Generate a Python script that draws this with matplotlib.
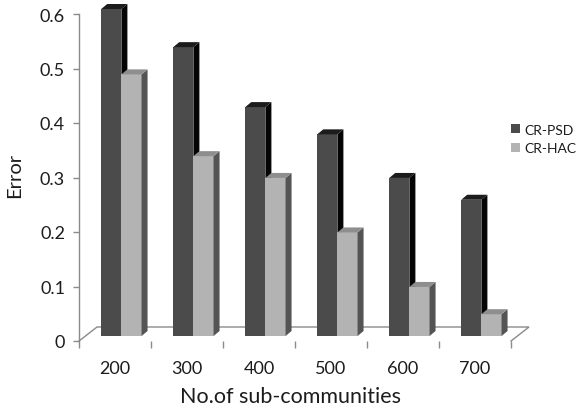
import matplotlib
matplotlib.use("Agg")
import matplotlib.pyplot as plt
from matplotlib.patches import Polygon, Patch

# Data
categories = ["200", "300", "400", "500", "600", "700"]
series_names = ["CR-PSD", "CR-HAC"]
cr_psd = [0.60, 0.53, 0.42, 0.37, 0.29, 0.25]
cr_hac = [0.48, 0.33, 0.29, 0.19, 0.09, 0.04]
y_ticks = [0, 0.1, 0.2, 0.3, 0.4, 0.5, 0.6]
y_tick_labels = ["0", "0.1", "0.2", "0.3", "0.4", "0.5", "0.6"]

plt.rcParams["font.family"] = ["Lato", "DejaVu Sans"]
TEXT = "#1c1c1c"
AXIS = "#8a8a8a"

W, H, DPI = 577, 406, 100
fig = plt.figure(figsize=(W / DPI, H / DPI), dpi=DPI)
fig.patch.set_facecolor("white")

# plot area in pixels (front plane)
L, R, B, T = 79, 511, 342, 15
ax = fig.add_axes([L / W, 1 - B / H, (R - L) / W, (B - T) / H])
n = len(categories)
ax.set_xlim(-0.5, n - 0.5)
ax.set_ylim(0, 0.6)
px_x = (R - L) / n          # pixels per category
px_y = (B - T) / 0.6        # pixels per unit value

def dx(p):
    return p / px_x

def dy(p):
    return p / px_y

# depth vectors
floor_d = (dx(18), dy(14))
front_shift = (dx(6.4), dy(5))
bar_d = (dx(6), dy(5))

# floor outline
fx0, fx1 = -0.5, n - 0.5
floor = [(fx0, 0), (fx0 + floor_d[0], floor_d[1]),
         (fx1 + floor_d[0], floor_d[1]), (fx1, 0)]
ax.plot([p[0] for p in floor], [p[1] for p in floor], color=AXIS,
        lw=1.0, clip_on=False, zorder=1, solid_joinstyle="miter")

width = 0.28
styles = [
    dict(front="#4b4b4b", side="#050505", top="#1c1c1c"),
    dict(front="#b3b3b3", side="#545454", top="#8e8e8e"),
]
offsets = [-width / 2, width / 2]

for s, (vals, st, off) in enumerate(zip([cr_psd, cr_hac], styles, offsets)):
    xs = [i + off + front_shift[0] for i in range(n)]
    ax.bar(xs, vals, width=width, bottom=front_shift[1], color=st["front"],
           edgecolor="none", zorder=2 + s, clip_on=False)
    for xc, v in zip(xs, vals):
        xl, xr = xc - width / 2, xc + width / 2
        yb, yt = front_shift[1], front_shift[1] + v
        side = [(xr, yb), (xr + bar_d[0], yb + bar_d[1]),
                (xr + bar_d[0], yt + bar_d[1]), (xr, yt)]
        top = [(xl, yt), (xr, yt), (xr + bar_d[0], yt + bar_d[1]),
               (xl + bar_d[0], yt + bar_d[1])]
        ax.add_patch(Polygon(side, closed=True, fc=st["side"], ec="none",
                             zorder=2 + s, clip_on=False))
        ax.add_patch(Polygon(top, closed=True, fc=st["top"], ec="none",
                             zorder=2 + s, clip_on=False))

# axes styling
for sp in ["top", "right", "bottom"]:
    ax.spines[sp].set_visible(False)
ax.spines["left"].set_color(AXIS)
ax.spines["left"].set_linewidth(1.0)
ax.patch.set_visible(False)

ax.set_yticks(y_ticks)
ax.set_yticklabels(y_tick_labels)
ax.tick_params(axis="y", direction="out", length=4, width=1.0, color=AXIS,
               labelsize=13, labelcolor=TEXT, pad=6)

ax.set_xticks(range(n))
ax.set_xticklabels(categories)
ax.set_xticks([i - 0.5 for i in range(n + 1)], minor=True)
ax.tick_params(axis="x", which="major", length=0, labelsize=13,
               labelcolor=TEXT, pad=14)
ax.tick_params(axis="x", which="minor", direction="out", length=5,
               width=1.0, color=AXIS)

fig.text(15 / W, 1 - 175 / H, "Error", rotation=90, ha="center",
         va="center", fontsize=14.5, color=TEXT)
fig.text(291 / W, 1 - 397 / H, "No.of sub-communities", ha="center",
         va="center", fontsize=15.5, color=TEXT)

handles = [Patch(facecolor=styles[0]["front"], edgecolor="none"),
           Patch(facecolor=styles[1]["front"], edgecolor="none")]
fig.legend(handles, series_names, loc="center left",
           bbox_to_anchor=(504 / W, 1 - 140 / H), frameon=False,
           fontsize=10, handlelength=0.65, handleheight=0.65,
           handletextpad=0.3, labelspacing=0.5, borderpad=0,
           labelcolor=TEXT)

fig.savefig("out.png", dpi=DPI, facecolor="white")
